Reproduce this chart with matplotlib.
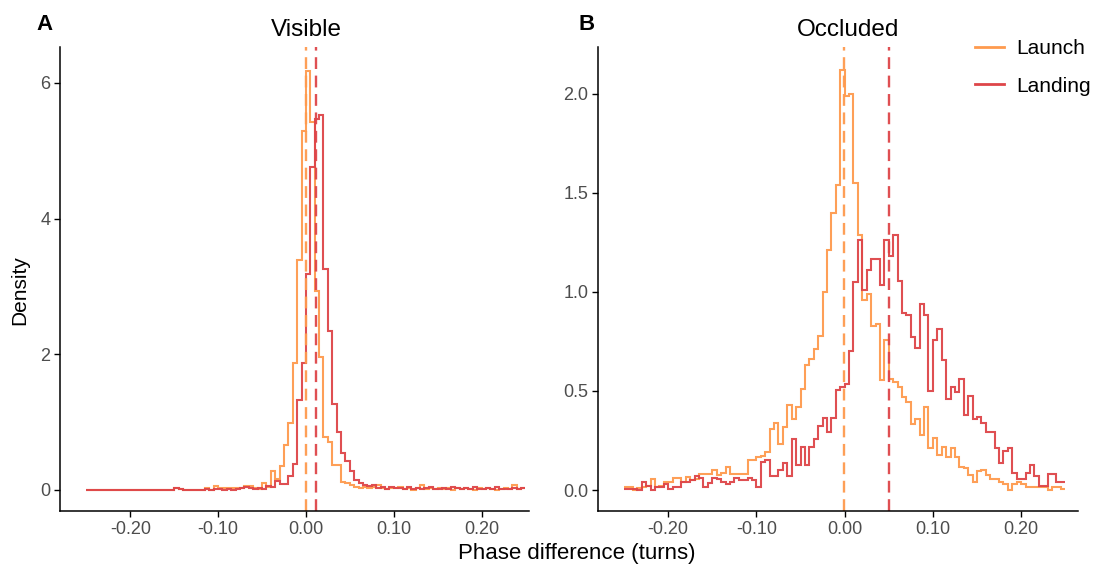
import numpy as np
import matplotlib
matplotlib.use("Agg")
import matplotlib.pyplot as plt
from matplotlib.lines import Line2D

plt.rcParams['font.family'] = ['Liberation Sans', 'DejaVu Sans']

# bins: 100 bins of 0.005 turns from -0.25 to 0.25
edges = np.round(np.arange(-0.25, 0.2501, 0.005), 4)

# Panel A (visible) densities, bin by bin
visible_launch = [
    0, 0, 0, 0, 0, 0, 0, 0, 0, 0,
    0, 0, 0, 0, 0, 0, 0, 0, 0, 0,
    0.03, 0.02, 0, 0, 0, 0, 0, 0.03, 0, 0.06,
    0.03, 0.03, 0.03, 0.03, 0.03, 0.03, 0.06, 0.06, 0.03, 0.02,
    0.10, 0.05, 0.28, 0.16, 0.36, 0.66, 0.98, 1.87, 3.39, 5.29,
    6.18, 5.42, 2.94, 1.96, 0.78, 0.70, 0.37, 0.37, 0.12, 0.10,
    0.08, 0.05, 0.03, 0.05, 0.03, 0.05, 0.07, 0.03, 0.02, 0.03,
    0.03, 0.05, 0.02, 0.03, 0.0, 0.03, 0.07, 0.02, 0.03, 0.02,
    0.03, 0.02, 0.03, 0.0, 0.03, 0.02, 0.03, 0.02, 0.0, 0.03,
    0.02, 0.03, 0.02, 0.0, 0.02, 0.03, 0.02, 0.08, 0.02, 0.03,
]
visible_landing = [
    0, 0, 0, 0, 0, 0, 0, 0, 0, 0,
    0, 0, 0, 0, 0, 0, 0, 0, 0, 0,
    0.03, 0.02, 0, 0, 0, 0, 0, 0.02, 0, 0.02,
    0.02, 0, 0.02, 0, 0.02, 0.03, 0.05, 0.03, 0.02, 0.03,
    0.01, 0.06, 0.05, 0.13, 0.09, 0.09, 0.20, 0.39, 1.32, 1.87,
    3.19, 4.76, 5.47, 5.53, 3.26, 2.35, 1.27, 0.86, 0.54, 0.43,
    0.28, 0.15, 0.10, 0.07, 0.06, 0.08, 0.03, 0.05, 0.02, 0.05,
    0.03, 0.03, 0.02, 0.05, 0.02, 0.03, 0.02, 0.03, 0.05, 0.02,
    0.02, 0.03, 0.02, 0.05, 0.03, 0.02, 0.03, 0.02, 0.05, 0.02,
    0.02, 0.03, 0.02, 0.05, 0.02, 0.02, 0.02, 0.03, 0.02, 0.03,
]

# Panel B (occluded) densities
occluded_launch = [
    0.015, 0.015, 0.0, 0.01, 0.015, 0.02, 0.055, 0.015, 0.02, 0.04,
    0.04, 0.06, 0.06, 0.04, 0.065, 0.05, 0.055, 0.08, 0.08, 0.08,
    0.10, 0.075, 0.085, 0.115, 0.08, 0.08, 0.08, 0.08, 0.15, 0.15,
    0.165, 0.17, 0.19, 0.31, 0.34, 0.23, 0.32, 0.43, 0.36, 0.42,
    0.51, 0.63, 0.66, 0.71, 0.78, 1.00, 1.21, 1.40, 1.54, 2.12,
    1.99, 2.00, 1.55, 1.29, 0.96, 0.99, 0.83, 0.84, 0.556, 0.756,
    0.56, 0.547, 0.52, 0.47, 0.446, 0.333, 0.36, 0.278, 0.418, 0.21,
    0.265, 0.176, 0.218, 0.165, 0.21, 0.168, 0.115, 0.11, 0.075, 0.04,
    0.098, 0.10, 0.075, 0.054, 0.054, 0.04, 0.03, 0.0, 0.03, 0.04,
    0.03, 0.013, 0.013, 0.013, 0.013, 0.013, 0.0, 0.013, 0.013, 0.005,
]
occluded_landing = [
    0.005, 0.005, 0.005, 0.0, 0.04, 0.02, 0.0, 0.013, 0.013, 0.03,
    0.005, 0.017, 0.017, 0.04, 0.04, 0.05, 0.07, 0.06, 0.013, 0.035,
    0.06, 0.055, 0.04, 0.03, 0.04, 0.06, 0.05, 0.05, 0.06, 0.05,
    0.015, 0.143, 0.15, 0.07, 0.07, 0.10, 0.135, 0.07, 0.256, 0.126,
    0.215, 0.126, 0.215, 0.256, 0.323, 0.365, 0.295, 0.365, 0.505, 0.52,
    0.535, 0.70, 1.05, 1.263, 1.01, 1.11, 1.165, 1.165, 1.035, 1.263,
    1.18, 1.29, 1.057, 0.895, 0.883, 0.774, 0.716, 0.94, 0.883, 0.501,
    0.757, 0.813, 0.656, 0.459, 0.518, 0.494, 0.56, 0.379, 0.476, 0.36,
    0.37, 0.336, 0.294, 0.294, 0.21, 0.138, 0.198, 0.21, 0.084, 0.054,
    0.054, 0.084, 0.126, 0.07, 0.02, 0.02, 0.08, 0.08, 0.04, 0.04,
]

# dashed reference lines (turns)
visible_vlines = [0.0, 0.0115]
occluded_vlines = [-0.001, 0.0505]

labels = ["Launch", "Landing"]
colors = ["#FE9A4E", "#DE4549"]

fig = plt.figure(figsize=(10.94, 5.66), dpi=100)
W, H = 1094, 566


def px_axes(x0, x1, y0, y1):
    return fig.add_axes([x0 / W, 1 - y1 / H, (x1 - x0) / W, (y1 - y0) / H])


axA = px_axes(60, 529, 47, 511)
axB = px_axes(598, 1078, 47, 511)

panels = [
    (axA, visible_launch, visible_landing, visible_vlines, "Visible", "A",
     (-0.28, 0.254), (-0.31, 6.53), [0, 2, 4, 6], ["0", "2", "4", "6"], 306, 36),
    (axB, occluded_launch, occluded_landing, occluded_vlines, "Occluded", "B",
     (-0.2795, 0.2645), (-0.106, 2.237), [0, 0.5, 1.0, 1.5, 2.0],
     ["0.0", "0.5", "1.0", "1.5", "2.0"], 848, 578),
]

for ax, launch, landing, vl, title, tag, xlim, ylim, yt, ytl, tx, tagx in panels:
    for vals, c in zip([launch, landing], colors):
        ax.stairs(vals, edges, baseline=None, color=c, lw=1.5, alpha=0.95)
    for v, c in zip(vl, colors):
        ax.axvline(v, color=c, lw=1.7, ls=(0, (5, 2.8)), alpha=0.95)
    ax.set_xlim(*xlim)
    ax.set_ylim(*ylim)
    ax.set_xticks([-0.2, -0.1, 0.0, 0.1, 0.2])
    ax.set_xticklabels(["-0.20", "-0.10", "0.00", "0.10", "0.20"])
    ax.set_yticks(yt)
    ax.set_yticklabels(ytl)
    for s in ["top", "right"]:
        ax.spines[s].set_visible(False)
    for s in ["left", "bottom"]:
        ax.spines[s].set_linewidth(1.1)
    ax.tick_params(axis="both", length=4, width=1.0, labelsize=13,
                   labelcolor="#4d4d4d", pad=3)
    fig.text(tx / W, 1 - 30 / H, title, fontsize=17.5, ha="center", va="center")
    fig.text(tagx / W, 1 - 25 / H, tag, fontsize=16, fontweight="bold", va="center")

fig.text(20 / W, 1 - 290 / H, "Density", rotation=90, fontsize=15,
         va="center", ha="center")
fig.text(577 / W, 1 - 553 / H, "Phase difference (turns)", fontsize=16,
         va="center", ha="center")

handles = [Line2D([], [], color=c, lw=2) for c in colors]
fig.legend(handles, labels, loc="upper left", bbox_to_anchor=(975 / W, 1 - 39 / H),
           frameon=False, fontsize=15, handlelength=1.4, labelspacing=0.9,
           handletextpad=0.6, borderpad=0, borderaxespad=0)

fig.savefig("out.png", dpi=100)
